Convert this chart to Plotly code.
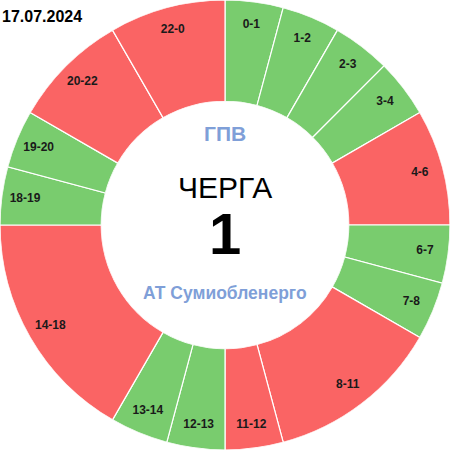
import plotly.graph_objects as go

# Data
labels = ["0-1", "1-2", "2-3", "3-4", "4-6", "6-7", "7-8", "8-11", "11-12",
          "12-13", "13-14", "14-18", "18-19", "19-20", "20-22", "22-0"]
start_hours = [0, 1, 2, 3, 4, 6, 7, 8, 11, 12, 13, 14, 18, 19, 20, 22]
durations = [1, 1, 1, 1, 2, 1, 1, 3, 1, 1, 1, 4, 1, 1, 2, 2]
outage = [0, 0, 0, 0, 1, 0, 0, 1, 1, 0, 0, 1, 0, 0, 1, 1]

date_text = "17.07.2024"
title_top = "ГПВ"
queue_word = "ЧЕРГА"
queue_num = "1"
company = "АТ Сумиобленерго"

RED = "#FA6464"
GREEN = "#79CC6E"
BLUE = "#7F9FD8"

deg_per_hour = 360 / 24
theta = [(s + d / 2) * deg_per_hour for s, d in zip(start_hours, durations)]
width = [d * deg_per_hour for d in durations]
colors = [RED if o else GREEN for o in outage]

fig = go.Figure()
fig.add_trace(go.Barpolar(
    r=[1] * len(labels), theta=theta, width=width,
    marker=dict(color=colors, line=dict(color="white", width=1.2)),
    hoverinfo="skip", showlegend=False,
))
fig.add_trace(go.Scatterpolar(
    r=[0.77] * len(labels), theta=theta, mode="text",
    text=["<b>%s</b>" % t for t in labels],
    textfont=dict(family="Arial, Liberation Sans", size=12, color="#1a1a1a"),
    hoverinfo="skip", showlegend=False,
))

fig.update_layout(
    width=450, height=450,
    margin=dict(l=0, r=0, t=0, b=0),
    paper_bgcolor="white",
    polar=dict(
        domain=dict(x=[0, 1], y=[0, 1]),
        hole=0.55,
        bgcolor="white",
        radialaxis=dict(range=[0, 1], visible=False),
        angularaxis=dict(rotation=90, direction="clockwise", visible=False),
    ),
    font=dict(family="Arial, Liberation Sans"),
)

ann = dict(xref="paper", yref="paper", showarrow=False, xanchor="center", yanchor="middle")
fig.add_annotation(x=0.5, y=1 - 134 / 450, text="<b>%s</b>" % title_top,
                   font=dict(size=21, color=BLUE), **ann)
fig.add_annotation(x=0.5, y=1 - 187 / 450, text=queue_word,
                   font=dict(size=30, color="black"), **ann)
fig.add_annotation(x=0.5, y=1 - 233 / 450, text="<b>%s</b>" % queue_num,
                   font=dict(size=58, color="black"), **ann)
fig.add_annotation(x=0.5, y=1 - 293 / 450, text="<b>%s</b>" % company,
                   font=dict(size=17.5, color=BLUE), **ann)
fig.add_annotation(x=0, y=1 - 16 / 450, xanchor="left", yanchor="middle",
                   xref="paper", yref="paper", showarrow=False,
                   text="<b>%s</b>" % date_text, font=dict(size=16, color="black"))

fig.write_html("out.html", config={"displayModeBar": False},
               post_script="document.body.style.margin='0';document.body.style.overflow='hidden';")
